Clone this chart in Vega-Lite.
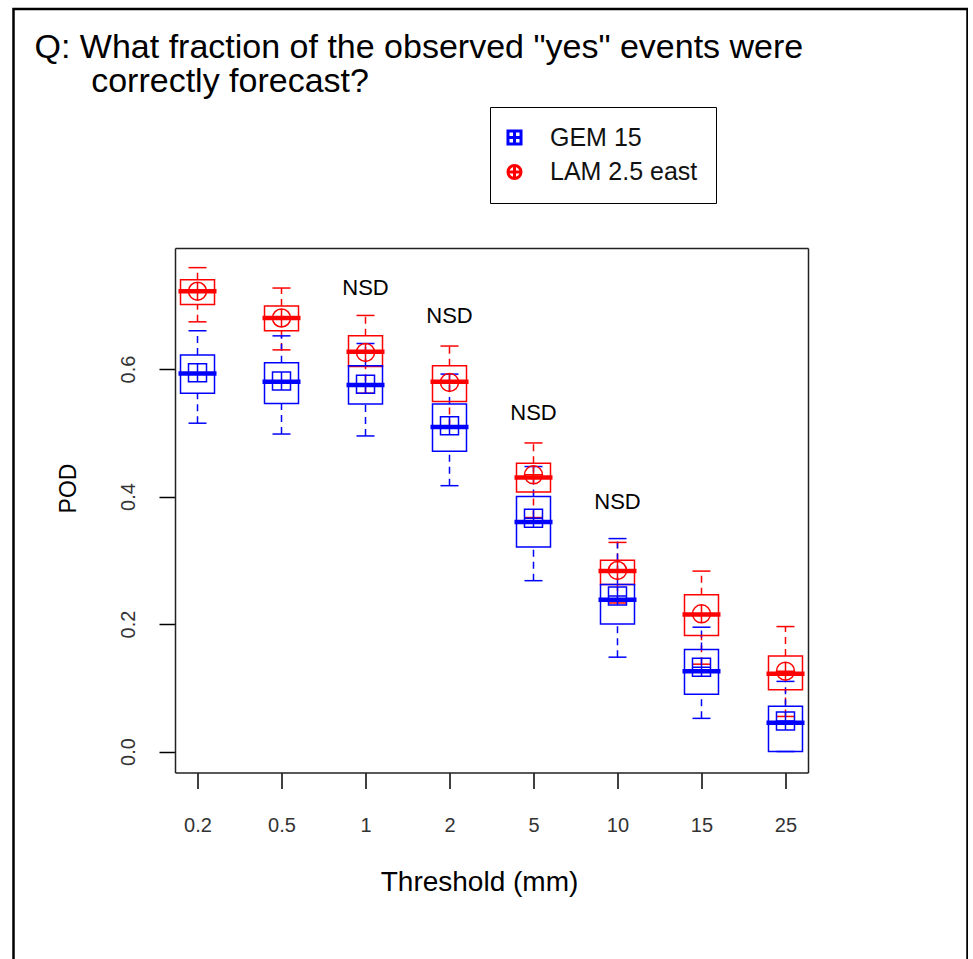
{
  "$schema": "https://vega.github.io/schema/vega-lite/v6.json",
  "width": 954,
  "height": 955,
  "autosize": {"type": "none"},
  "padding": {"left": 13.5, "top": 9, "right": 0, "bottom": 0},
  "background": "white",
  "title": {
    "text": ["Q: What fraction of the observed \"yes\" events were", "\u200b\u00a0\u00a0\u00a0\u00a0\u00a0\u00a0correctly forecast?"],
    "anchor": "start",
    "frame": "group",
    "orient": "top",
    "offset": 0,
    "baseline": "top",
    "fontSize": 34,
    "fontWeight": "normal",
    "font": "Liberation Sans",
    "color": "black",
    "lineHeight": 34,
    "dx": 21,
    "dy": 90
  },
  "datasets": {
    "stats": [
      {"threshold": "0.2", "model": "LAM 2.5 east", "wlo": 0.674, "q1": 0.701, "med": 0.722, "q3": 0.740, "whi": 0.759, "mean": 0.722},
      {"threshold": "0.5", "model": "LAM 2.5 east", "wlo": 0.630, "q1": 0.660, "med": 0.680, "q3": 0.699, "whi": 0.727, "mean": 0.680},
      {"threshold": "1", "model": "LAM 2.5 east", "wlo": 0.562, "q1": 0.604, "med": 0.627, "q3": 0.652, "whi": 0.684, "mean": 0.626},
      {"threshold": "2", "model": "LAM 2.5 east", "wlo": 0.510, "q1": 0.549, "med": 0.580, "q3": 0.605, "whi": 0.636, "mean": 0.579},
      {"threshold": "5", "model": "LAM 2.5 east", "wlo": 0.367, "q1": 0.407, "med": 0.430, "q3": 0.452, "whi": 0.484, "mean": 0.434},
      {"threshold": "10", "model": "LAM 2.5 east", "wlo": 0.233, "q1": 0.262, "med": 0.283, "q3": 0.300, "whi": 0.328, "mean": 0.284},
      {"threshold": "15", "model": "LAM 2.5 east", "wlo": 0.137, "q1": 0.182, "med": 0.215, "q3": 0.246, "whi": 0.283, "mean": 0.216},
      {"threshold": "25", "model": "LAM 2.5 east", "wlo": 0.055, "q1": 0.097, "med": 0.122, "q3": 0.150, "whi": 0.196, "mean": 0.126},
      {"threshold": "0.2", "model": "GEM 15", "wlo": 0.515, "q1": 0.562, "med": 0.593, "q3": 0.622, "whi": 0.660, "mean": 0.594},
      {"threshold": "0.5", "model": "GEM 15", "wlo": 0.498, "q1": 0.546, "med": 0.580, "q3": 0.610, "whi": 0.652, "mean": 0.581},
      {"threshold": "1", "model": "GEM 15", "wlo": 0.495, "q1": 0.545, "med": 0.575, "q3": 0.605, "whi": 0.640, "mean": 0.576},
      {"threshold": "2", "model": "GEM 15", "wlo": 0.417, "q1": 0.471, "med": 0.509, "q3": 0.545, "whi": 0.592, "mean": 0.511},
      {"threshold": "5", "model": "GEM 15", "wlo": 0.268, "q1": 0.321, "med": 0.360, "q3": 0.400, "whi": 0.447, "mean": 0.366},
      {"threshold": "10", "model": "GEM 15", "wlo": 0.148, "q1": 0.200, "med": 0.238, "q3": 0.262, "whi": 0.334, "mean": 0.244},
      {"threshold": "15", "model": "GEM 15", "wlo": 0.052, "q1": 0.090, "med": 0.126, "q3": 0.160, "whi": 0.195, "mean": 0.132},
      {"threshold": "25", "model": "GEM 15", "wlo": 0.000, "q1": 0.000, "med": 0.045, "q3": 0.071, "whi": 0.110, "mean": 0.048}
    ],
    "nsd": [
      {"threshold": "1", "label": "NSD", "y": 0.7275},
      {"threshold": "2", "label": "NSD", "y": 0.683},
      {"threshold": "5", "label": "NSD", "y": 0.531},
      {"threshold": "10", "label": "NSD", "y": 0.392}
    ]
  },
  "data": {"name": "stats"},
  "encoding": {
    "x": {
      "field": "threshold",
      "type": "ordinal",
      "scale": {"type": "point", "domain": ["0.2", "0.5", "1", "2", "5", "10", "15", "25"], "range": [161.5, 794.5], "padding": 0.268},
      "axis": null
    }
  },
  "layer": [
    {
      "mark": {"type": "rule", "strokeDash": [7, 5], "strokeWidth": 1.5},
      "encoding": {
        "x": {
          "field": "threshold",
          "type": "ordinal",
          "scale": {"type": "point", "domain": ["0.2", "0.5", "1", "2", "5", "10", "15", "25"], "range": [161.5, 794.5], "padding": 0.268},
          "axis": {
            "orient": "bottom", "offset": -191.5, "grid": false,
            "title": "Threshold (mm)", "titleFont": "Liberation Sans", "titleFontSize": 28, "titleFontWeight": "normal", "titleColor": "black",
            "titleX": 465.5, "titleY": 109.5, "titleBaseline": "middle", "titleAlign": "center",
            "labelAngle": 0, "labelFont": "Liberation Sans", "labelFontSize": 20, "labelColor": "#333", "labelBaseline": "middle", "labelPadding": 37,
            "tickSize": 16, "tickWidth": 1.5, "tickColor": "black", "domainColor": "#222", "domainWidth": 1.5
          }
        },
        "y": {
          "field": "wlo",
          "type": "quantitative",
          "scale": {"domain": [-0.0329, 0.7898], "range": [763.5, 239], "nice": false, "zero": false},
          "axis": {
            "orient": "left", "offset": -161.5, "grid": false,
            "values": [0, 0.2, 0.4, 0.6], "format": ".1f",
            "title": "POD", "titleFont": "Liberation Sans", "titleFontSize": 23, "titleFontWeight": "normal", "titleColor": "black",
            "titleAngle": 270, "titleX": -107, "titleY": 479, "titleBaseline": "middle", "titleAlign": "center",
            "labelAngle": 270, "labelAlign": "center", "labelBaseline": "bottom", "labelFont": "Liberation Sans", "labelFontSize": 20, "labelColor": "#333", "labelPadding": 21,
            "tickSize": 16, "tickWidth": 1.5, "tickColor": "black", "domainColor": "#222", "domainWidth": 1.5
          }
        },
        "y2": {"field": "q1"},
        "stroke": {"field": "model", "type": "nominal", "scale": {"domain": ["GEM 15", "LAM 2.5 east"], "range": ["#0000FF", "#FF0000"]}, "legend": null}
      }
    },
    {
      "mark": {"type": "rule", "strokeDash": [7, 5], "strokeWidth": 1.5},
      "encoding": {
        "y": {"field": "q3", "type": "quantitative", "axis": null},
        "y2": {"field": "whi"},
        "stroke": {"field": "model", "type": "nominal", "legend": null}
      }
    },
    {
      "mark": {"type": "tick", "size": 18, "thickness": 1.5, "opacity": 1},
      "encoding": {
        "y": {"field": "wlo", "type": "quantitative", "axis": null},
        "fill": {"field": "model", "type": "nominal", "scale": {"domain": ["GEM 15", "LAM 2.5 east"], "range": ["#0000FF", "#FF0000"]}, "legend": null}
      }
    },
    {
      "mark": {"type": "tick", "size": 18, "thickness": 1.5, "opacity": 1},
      "encoding": {
        "y": {"field": "whi", "type": "quantitative", "axis": null},
        "fill": {"field": "model", "type": "nominal", "legend": null}
      }
    },
    {
      "mark": {"type": "bar", "filled": false, "size": 34, "strokeWidth": 1.5, "opacity": 1},
      "encoding": {
        "y": {"field": "q1", "type": "quantitative", "axis": null},
        "y2": {"field": "q3"},
        "stroke": {"field": "model", "type": "nominal", "legend": null}
      }
    },
    {
      "mark": {"type": "tick", "size": 38, "thickness": 4.5, "opacity": 1},
      "encoding": {
        "y": {"field": "med", "type": "quantitative", "axis": null},
        "fill": {"field": "model", "type": "nominal", "legend": null}
      }
    },
    {
      "mark": {"type": "point", "filled": false, "size": 324, "strokeWidth": 1.5, "opacity": 1},
      "encoding": {
        "y": {"field": "mean", "type": "quantitative", "axis": null},
        "shape": {
          "field": "model",
          "type": "nominal",
          "scale": {"domain": ["GEM 15", "LAM 2.5 east"], "range": ["M-1,-1H1V1H-1Z M-1,0H1 M0,-1V1", "M-1,0A1,1,0,1,1,1,0A1,1,0,1,1,-1,0Z M-1,0H1 M0,-1V1"]},
          "legend": {"title": null, "orient": "none", "legendX": 476.5, "legendY": 98}
        },
        "color": {
          "field": "model",
          "type": "nominal",
          "scale": {"domain": ["GEM 15", "LAM 2.5 east"], "range": ["#0000FF", "#FF0000"]},
          "legend": {"title": null, "orient": "none", "legendX": 476.5, "legendY": 98}
        }
      }
    },
    {
      "data": {"name": "nsd"},
      "mark": {"type": "text", "fontSize": 22, "font": "Liberation Sans", "baseline": "middle", "align": "center", "color": "black"},
      "encoding": {
        "x": {
          "field": "threshold",
          "type": "ordinal",
          "scale": {"type": "point", "domain": ["0.2", "0.5", "1", "2", "5", "10", "15", "25"], "range": [161.5, 794.5], "padding": 0.268},
          "axis": {"orient": "top", "offset": -239, "labels": false, "ticks": false, "title": null, "grid": false, "domainColor": "#222", "domainWidth": 1.5}
        },
        "y": {
          "field": "y",
          "type": "quantitative",
          "axis": {"orient": "right", "offset": -159.5, "labels": false, "ticks": false, "title": null, "grid": false, "domainColor": "#222", "domainWidth": 1.5}
        },
        "text": {"field": "label"}
      }
    }
  ],
  "resolve": {
    "axis": {"x": "independent", "y": "independent"},
    "legend": {"stroke": "independent", "fill": "independent"}
  },
  "config": {
    "font": "Liberation Sans",
    "view": {"stroke": "black", "strokeWidth": 2.5},
    "legend": {
      "strokeColor": "black",
      "padding": 18,
      "labelFont": "Liberation Sans",
      "labelFontSize": 25,
      "labelColor": "#111",
      "labelOffset": 23,
      "symbolOffset": -6,
      "symbolSize": 170,
      "symbolStrokeWidth": 3,
      "rowPadding": 7.5,
      "cornerRadius": 0
    }
  }
}
